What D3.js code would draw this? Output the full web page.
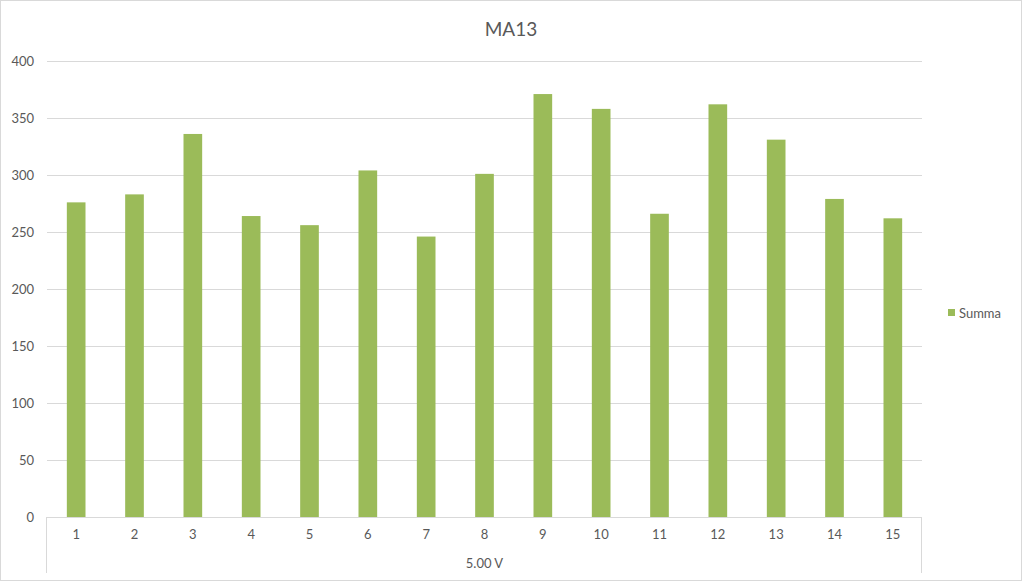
<!DOCTYPE html>
<html>
<head>
<meta charset="utf-8">
<script src="https://cdn.jsdelivr.net/npm/d3@7"></script>
<style>
  html, body { margin: 0; padding: 0; background: #fff; }
  svg { display: block; }
</style>
</head>
<body>
<div id="chart"></div>
<script>
// Chart data
var categories = ["1", "2", "3", "4", "5", "6", "7", "8", "9", "10", "11", "12", "13", "14", "15"];
var summaValues = [276, 283, 336, 264, 256, 304, 246, 301, 371, 358, 266, 362, 331, 279, 262];
var yTicks = [0, 50, 100, 150, 200, 250, 300, 350, 400];
var groupLabel = "5.00 V";
var seriesName = "Summa";
var chartTitle = "MA13";

var width = 1023;
var height = 582;
var fontFamily = "Lato, 'Open Sans', sans-serif";
var textColor = "#595959";
var gridColor = "#d9d9d9";
var barColor = "#9bbb59";

// Plot area
var plotLeft = 47;
var plotRight = 922;
var plotTop = 61;
var plotBottom = 517;

var svg = d3.select("#chart").append("svg")
  .attr("width", width)
  .attr("height", height);

// Chart border
svg.append("rect")
  .attr("x", 0.5)
  .attr("y", 0.5)
  .attr("width", width - 2)
  .attr("height", height - 2)
  .attr("fill", "#fff")
  .attr("stroke", gridColor);

// Scales
var xScale = d3.scaleBand()
  .domain(categories)
  .range([plotLeft, plotRight])
  .paddingInner(0.68)
  .paddingOuter(0.34);

var yScale = d3.scaleLinear()
  .domain([0, 400])
  .range([plotBottom, plotTop]);

// Gridlines
svg.append("g").selectAll("line")
  .data(yTicks.filter(function(d) { return d > 0; }))
  .enter().append("line")
  .attr("x1", plotLeft)
  .attr("x2", plotRight)
  .attr("y1", function(d) { return Math.round(yScale(d)) + 0.5; })
  .attr("y2", function(d) { return Math.round(yScale(d)) + 0.5; })
  .attr("stroke", gridColor)
  .attr("stroke-width", 1);

// Y axis labels
var yAxis = svg.append("g")
  .attr("transform", "translate(" + plotLeft + ",0)")
  .call(d3.axisLeft(yScale).tickValues(yTicks).tickSize(0).tickPadding(13));
yAxis.select(".domain").remove();
yAxis.selectAll("text")
  .attr("fill", textColor)
  .style("font-family", fontFamily)
  .style("font-size", "13px");

// Bars
svg.append("g").selectAll("rect")
  .data(summaValues)
  .enter().append("rect")
  .attr("x", function(d, i) { return xScale(categories[i]); })
  .attr("y", function(d) { return yScale(d); })
  .attr("width", xScale.bandwidth())
  .attr("height", function(d) { return plotBottom - yScale(d); })
  .attr("fill", barColor);

// X axis (category labels)
var xAxis = svg.append("g")
  .attr("transform", "translate(0," + plotBottom + ")")
  .call(d3.axisBottom(xScale).tickSize(0).tickPadding(13));
xAxis.select(".domain").remove();
xAxis.selectAll("text")
  .attr("fill", textColor)
  .style("font-family", fontFamily)
  .style("font-size", "13px");

// Axis line and group separators
svg.append("line")
  .attr("x1", plotLeft)
  .attr("x2", plotRight)
  .attr("y1", plotBottom + 0.5)
  .attr("y2", plotBottom + 0.5)
  .attr("stroke", gridColor);

svg.append("g").selectAll("line")
  .data([plotLeft, plotRight])
  .enter().append("line")
  .attr("x1", function(d) { return d - 0.5; })
  .attr("x2", function(d) { return d - 0.5; })
  .attr("y1", plotBottom)
  .attr("y2", 573)
  .attr("stroke", gridColor);

// Group label
svg.append("text")
  .attr("x", (plotLeft + plotRight) / 2)
  .attr("y", 568)
  .attr("fill", textColor)
  .style("font-family", fontFamily)
  .style("font-size", "13px")
  .style("text-anchor", "middle")
  .text(groupLabel);

// Title
svg.append("text")
  .attr("x", 511)
  .attr("y", 36)
  .attr("fill", textColor)
  .style("font-family", fontFamily)
  .style("font-size", "19px")
  .style("text-anchor", "middle")
  .text(chartTitle);

// Legend
svg.append("rect")
  .attr("x", 948)
  .attr("y", 309)
  .attr("width", 7)
  .attr("height", 7)
  .attr("fill", barColor);

svg.append("text")
  .attr("x", 959)
  .attr("y", 318)
  .attr("fill", textColor)
  .style("font-family", fontFamily)
  .style("font-size", "13px")
  .text(seriesName);
</script>
</body>
</html>
